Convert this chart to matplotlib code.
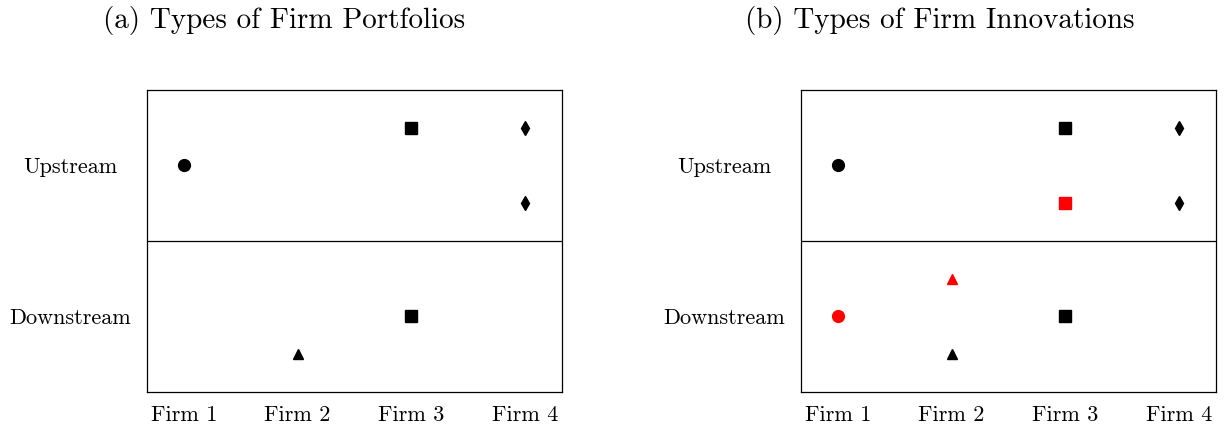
import matplotlib
matplotlib.use("Agg")
import matplotlib.pyplot as plt

plt.rcParams['font.family'] = 'serif'
plt.rcParams['font.serif'] = ['cmr10']
plt.rcParams['axes.formatter.use_mathtext'] = True

firms = ['Firm 1', 'Firm 2', 'Firm 3', 'Firm 4']
streams = ['Downstream', 'Upstream']
titles = ['(a) Types of Firm Portfolios', '(b) Types of Firm Innovations']

# (firm index, stream index, offset within stream, marker, colour)
portfolio_pts = [
    (1, 1, 0.0, 'o', 'black'),
    (2, 0, -0.25, '^', 'black'),
    (3, 1, 0.25, 's', 'black'),
    (3, 0, 0.0, 's', 'black'),
    (4, 1, 0.25, 'd', 'black'),
    (4, 1, -0.25, 'd', 'black'),
]
innovation_pts = [
    (1, 1, 0.0, 'o', 'black'),
    (1, 0, 0.0, 'o', 'red'),
    (2, 0, 0.25, '^', 'red'),
    (2, 0, -0.25, '^', 'black'),
    (3, 1, 0.25, 's', 'black'),
    (3, 1, -0.25, 's', 'red'),
    (3, 0, 0.0, 's', 'black'),
    (4, 1, 0.25, 'd', 'black'),
    (4, 1, -0.25, 'd', 'black'),
]

sizes = {'o': 8.5, 's': 8.0, 'd': 7.0, '^': 7.5}

fig = plt.figure(figsize=(12.3, 4.3), dpi=100)
lefts = [147 / 1230, 801 / 1230]
title_x = [284 / 1230, 940 / 1230]

for i, pts in enumerate([portfolio_pts, innovation_pts]):
    ax = fig.add_axes([lefts[i], 0.0884, 415 / 1230, 0.7023])
    for f, s, off, m, c in pts:
        ax.plot(f, s + off, marker=m, color=c, ms=sizes[m], ls='none')
    ax.axhline(0.5, color='black', lw=0.9)
    ax.set_xlim(0.675, 4.325)
    ax.set_ylim(-0.5, 1.5)
    ax.set_xticks(range(1, 5))
    ax.set_xticklabels(firms)
    ax.set_yticks([0, 1])
    ax.set_yticklabels(streams, ha='center')
    ax.tick_params(length=0, labelsize=16)
    ax.tick_params(axis='x', pad=10)
    ax.tick_params(axis='y', pad=55)
    for sp in ax.spines.values():
        sp.set_linewidth(0.9)
    fig.text(title_x[i], 0.952, titles[i], ha='center', va='center', fontsize=21)

fig.savefig('out.png', dpi=100)
